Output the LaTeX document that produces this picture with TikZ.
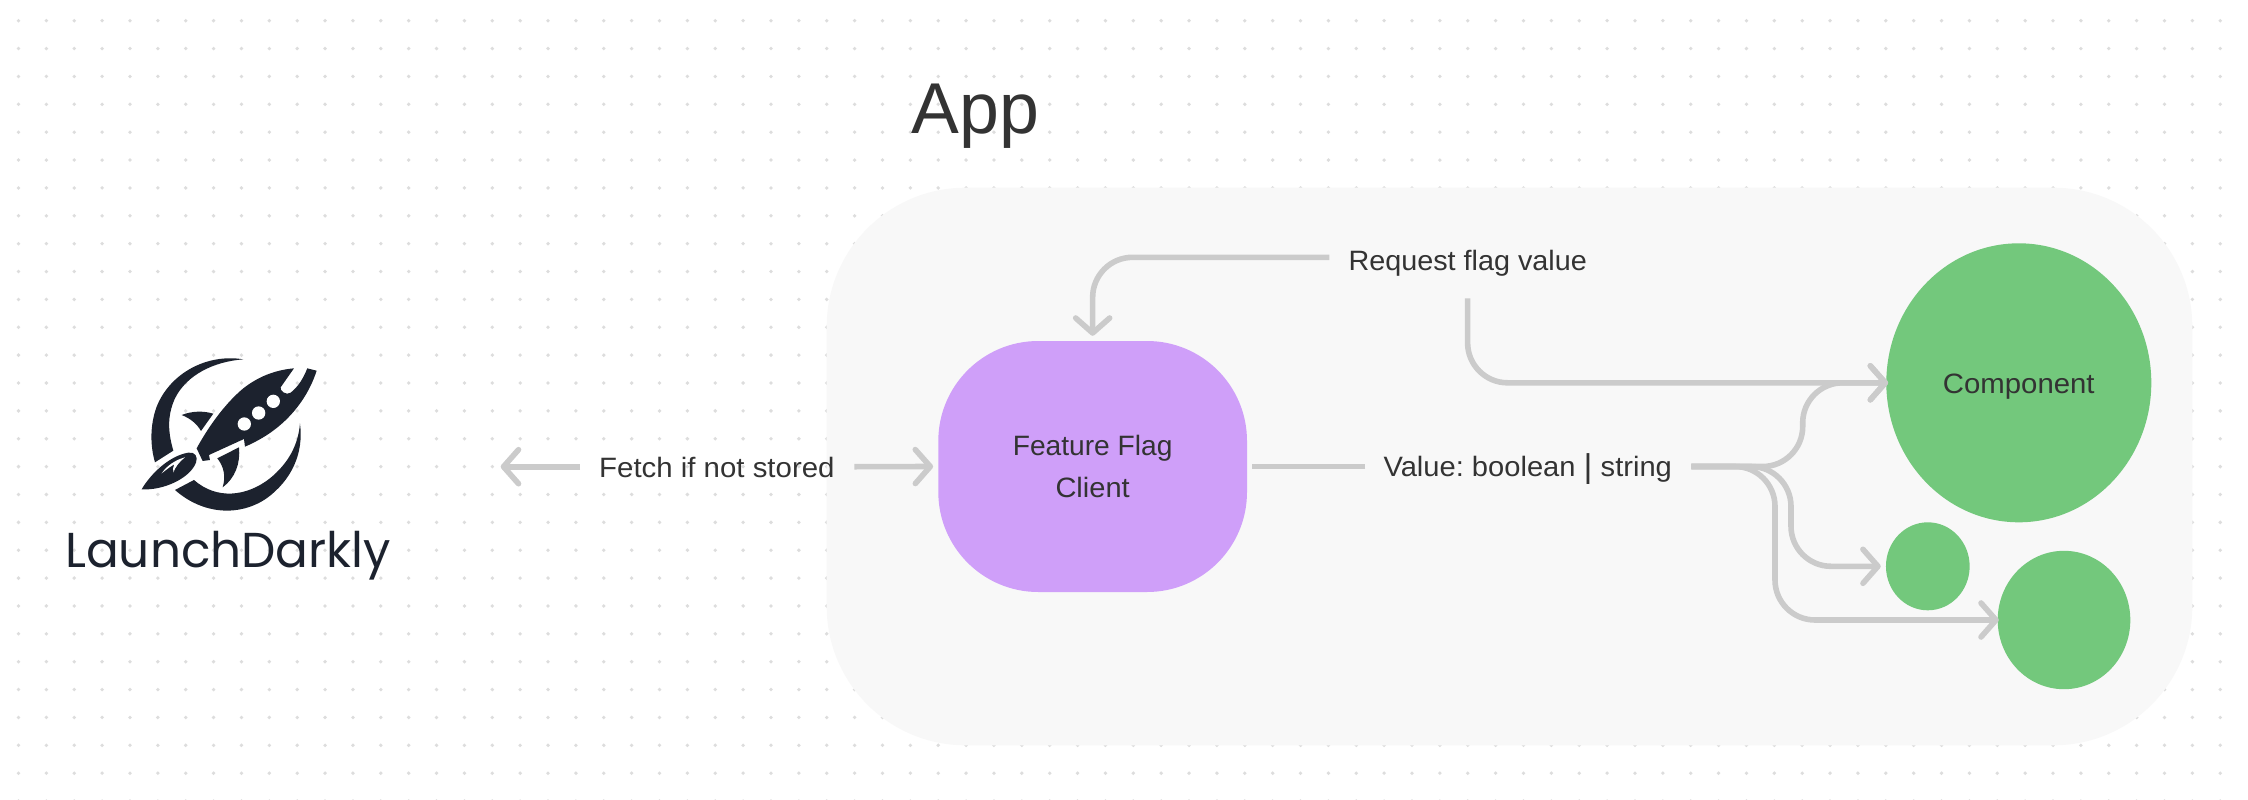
\documentclass[tikz,border=0pt]{standalone}
\usepackage{fontspec}
\setmainfont{Liberation Sans}
\newfontfamily\ldfont{Poppins}
\usetikzlibrary{arrows.meta,shapes.geometric}
\definecolor{wire}{HTML}{CBCBCB}
\definecolor{ink}{HTML}{333333}
\definecolor{panelc}{HTML}{F8F8F8}
\definecolor{purp}{HTML}{CF9FF9}
\definecolor{grn}{HTML}{73C87C}
\definecolor{dotc}{HTML}{DDDDDD}
\definecolor{ldc}{HTML}{1C222E}
\newcommand{\fitw}[2]{\resizebox{#1pt}{\height}{#2}}
\frenchspacing
\tikzset{
  lab/.style={inner sep=0pt,text=ink,anchor=west,font=\fontsize{28}{42}\selectfont,text height=21pt,text depth=0pt},
  wireline/.style={draw=wire,line width=5.6pt},
  tip/.style={-{Straight Barb[length=15pt,width=34pt,round]}},
  comp/.style={ellipse,fill=grn,inner sep=0pt,text=ink,font=\fontsize{28}{42}\selectfont,text height=21pt,text depth=0pt},
  ldpart/.style={fill=ldc,draw=none}
}
\begin{document}
\begin{tikzpicture}[x=1pt,y=-1pt]
\useasboundingbox (0,0) rectangle (2248,800);
\fill[white] (0,0) rectangle (2248,800);
% dot grid
\foreach \i in {0,...,79}{\foreach \j in {0,...,28}{
  \fill[dotc] ({18.5+27.87*\i},{20.7+27.87*\j}) circle (1.9pt);
}}
% panel
\node[fill=panelc,rounded corners=139pt,minimum width=1365.6pt,minimum height=557.6pt,inner sep=0pt] (panel) at (1509.5,466.5) {};
% title
\node[inner sep=0pt,text=ink,anchor=base west,font=\fontsize{72}{80}\selectfont] (title) at (911.5,133.3) {\fitw{127.5}{App}};
% shapes
\node[fill=purp,rounded corners=100pt,minimum width=308.7pt,minimum height=251pt,inner sep=0pt,text=ink,align=center,font=\fontsize{28}{42}\selectfont] (ffc) at (1092.65,466.5)
  {\rule{0pt}{21pt}\fitw{159.7}{Feature Flag}\\\fitw{74.3}{Client}};
\node[comp,minimum width=265pt,minimum height=279pt] (cmpA) at (2018.8,382.8) {\fitw{151.7}{Component}};
\node[comp,minimum width=83.7pt,minimum height=88pt] (cmpB) at (1927.8,566.3) {};
\node[comp,minimum width=132.6pt,minimum height=138.4pt] (cmpC) at (2064,620) {};
% labels
\node[lab] (fetch) at (599,466.7) {\fitw{235.3}{Fetch if not stored}};
\node[lab,text height=25.4pt] (req) at (1348.3,257.3) {\fitw{238.4}{Request flag value}};
\node[lab,text height=20.4pt] (val) at (1383.3,466.5) {\fitw{288.4}{Value: boolean {\fontsize{33}{42}\selectfont\raisebox{-1pt}{|}} string}};
% free ends and bends
\coordinate (ldend) at (500.7,466.7);
\coordinate (reqL) at ([xshift=-19pt]req.west);
\coordinate (reqS) at (1467.6,298.3);
\coordinate (valL) at ([xshift=-18pt]val.west);
\coordinate (valR) at ([xshift=19.3pt]val.east);
\coordinate (bend1) at (1802.7,0);
\coordinate (bend2) at (1791,0);
\coordinate (bend3) at (1775,0);
\coordinate (tipA) at ([xshift=2pt]cmpA.west);
\coordinate (tipB) at ([xshift=-5pt]cmpB.west);
\coordinate (tipC) at ([xshift=1.3pt]cmpC.west);
% connectors
\draw[wireline,tip] ([xshift=-19pt]fetch.west) -- (ldend);
\draw[wireline,tip] ([xshift=19.7pt]fetch.east) -- ([xshift=-5pt]ffc.west);
\draw[wireline,tip,rounded corners=40pt] (reqL) -- (reqL -| ffc.north) -- ([yshift=5pt]ffc.north);
\draw[wireline,tip,rounded corners=40pt] (reqS) -- (reqS |- tipA) -- (tipA);
\draw[wireline] (valL) -- ([xshift=5pt]ffc.east);
\draw[wireline,tip,rounded corners=40pt] (valR) -- (valR -| bend1) -- (bend1 |- tipA) -- (tipA);
\draw[wireline,tip,rounded corners=40pt] (valR) -- (valR -| bend2) -- (bend2 |- tipB) -- (tipB);
\draw[wireline,tip,rounded corners=40pt] (valR) -- (valR -| bend3) -- (bend3 |- tipC) -- (tipC);
% logo
\begin{scope}[shift={(40,330)},x=0.3333pt,y=-0.3333pt]
  % upper crescent
  \fill[ldpart] (610,88) .. controls (500,70) and (390,130) .. (350,230) .. controls (330,285) and (330,345) .. (345,397) -- (400,362) .. controls (385,310) and (380,260) .. (405,205) .. controls (440,135) and (520,95) .. (610,88) -- cycle;
  % lower crescent
  \fill[ldpart] (780,280) .. controls (792,370) and (755,450) .. (680,505) .. controls (600,560) and (490,555) .. (405,480) -- (462,450) .. controls (530,510) and (620,500) .. (690,445) .. controls (745,400) and (775,345) .. (780,280) -- cycle;
  % body
  \fill[ldpart] (470,355) .. controls (500,300) and (550,225) .. (610,175) .. controls (655,140) and (705,120) .. (762,115) -- (722,172) .. controls (718,182) and (740,198) .. (752,188) .. controls (775,170) and (790,145) .. (802,115) -- (830,122) .. controls (810,185) and (770,245) .. (715,290) .. controls (685,315) and (650,335) .. (615,350) -- (612,327) -- (507,375) -- (510,390) -- (488,393) -- cycle;
  \fill[white] (613,282) circle (20);
  \fill[white] (656,249) circle (20);
  \fill[white] (700,214) circle (20);
  % fins
  \fill[ldpart] (425,255) .. controls (455,243) and (490,242) .. (520,251) -- (483,303) .. controls (470,280) and (450,265) .. (425,255) -- cycle;
  \fill[ldpart] (532,385) -- (597,352) .. controls (602,400) and (585,445) .. (548,472) .. controls (558,440) and (552,410) .. (532,385) -- cycle;
  % flame
  \fill[ldpart] (305,478) .. controls (330,435) and (385,378) .. (445,368) .. controls (465,365) and (475,380) .. (468,398) .. controls (450,445) and (370,482) .. (305,478) -- cycle;
  \fill[white] (365,430) .. controls (380,408) and (405,390) .. (435,382) .. controls (418,395) and (405,412) .. (400,428) .. controls (398,418) and (400,410) .. (403,403) .. controls (390,410) and (378,420) .. (365,430) -- cycle;
\end{scope}
\node[inner sep=0pt,anchor=base west,text=ldc,font=\ldfont\fontsize{49}{56}\selectfont] (ldname) at (65,567.3) {\fitw{326}{LaunchDarkly}};
\end{tikzpicture}
\end{document}
